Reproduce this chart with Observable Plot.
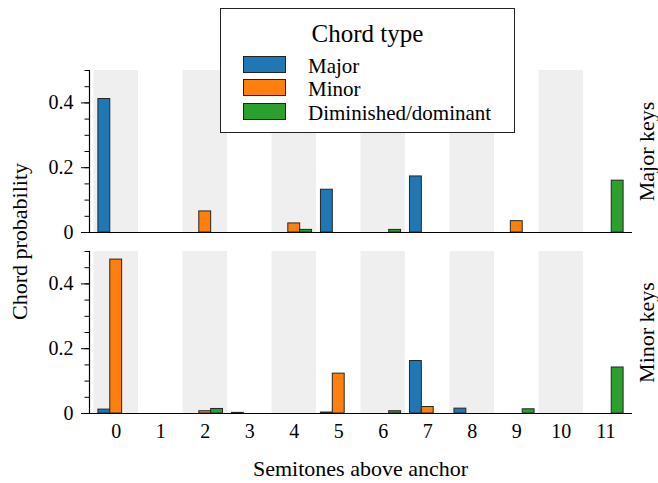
<!DOCTYPE html>
<html>
<head>
<meta charset="utf-8">
<script src="https://cdn.jsdelivr.net/npm/d3@7"></script>
<script src="https://cdn.jsdelivr.net/npm/@observablehq/plot@0.6"></script>
<style>
  body { margin: 0; background: white; }
  #wrap { position: relative; width: 658px; height: 483px; font-family: "Liberation Serif", "DejaVu Serif", serif; }
  #wrap svg, #wrap svg text, #wrap svg g { font-family: "Liberation Serif", "DejaVu Serif", serif !important; }
  #legend { position: absolute; left: 220px; top: 8px; width: 295px; height: 125px; border: 1px solid #222; background: white; box-sizing: border-box; }
  #legend .title { position: absolute; left: 0; width: 100%; text-align: center; font-size: 25px; line-height: 24px; top: 13px; }
  #legend .sw { position: absolute; left: 22px; width: 43px; height: 17px; border: 1px solid #222; box-sizing: border-box; }
  #legend .lab { position: absolute; left: 87px; font-size: 21px; line-height: 20px; white-space: nowrap; }
</style>
</head>
<body>
<div id="wrap"></div>
<script>
// ---- data ----
const semitones = [0, 1, 2, 3, 4, 5, 6, 7, 8, 9, 10, 11];
const chordTypes = ["Major", "Minor", "Diminished/dominant"];
const keyModes = ["Major keys", "Minor keys"];
const colors = ["#1f77b4", "#ff7f0e", "#2ca02c"];

// Major keys panel
const majKeysMajor = [0.412, 0, 0, 0, 0, 0.132, 0, 0.173, 0, 0, 0, 0];
const majKeysMinor = [0, 0, 0.065, 0, 0.028, 0, 0, 0, 0, 0.035, 0, 0];
const majKeysDim   = [0, 0, 0, 0, 0.008, 0, 0.008, 0, 0, 0, 0, 0.160];
// Minor keys panel
const minKeysMajor = [0.012, 0, 0, 0.002, 0, 0.003, 0, 0.162, 0.015, 0, 0, 0];
const minKeysMinor = [0.475, 0, 0.007, 0, 0, 0.123, 0, 0.020, 0, 0, 0, 0];
const minKeysDim   = [0, 0, 0.014, 0, 0, 0, 0.007, 0, 0, 0.013, 0, 0.142];

const yMajorTicks = [0, 0.2, 0.4];
const yMinorTicks = [0, 0.05, 0.1, 0.15, 0.2, 0.25, 0.3, 0.35, 0.4, 0.45, 0.5];

// ---- table ----
const series = {
  "Major keys": [majKeysMajor, majKeysMinor, majKeysDim],
  "Minor keys": [minKeysMajor, minKeysMinor, minKeysDim]
};
const rows = [];
for (const mode of keyModes) {
  series[mode].forEach((vals, ti) => {
    semitones.forEach((s, i) => rows.push({mode, type: chordTypes[ti], ti, semitone: s, value: vals[i]}));
  });
}
const bandRows = [];
for (const mode of keyModes) for (const s of semitones) if (s % 2 === 0) bandRows.push({mode, semitone: s});

const bw = 0.8 / 3; // bar width in semitone units

const plot = Plot.plot({
  width: 658,
  height: 483,
  marginTop: 70,
  marginBottom: 70,
  marginLeft: 89,
  marginRight: 26,
  style: "font-family: 'Liberation Serif', serif; font-size: 20px; background: white; color: black;",
  x: {domain: [-0.6, 11.6]},
  y: {domain: [0, 0.5]},
  fy: {domain: keyModes, paddingInner: 0.107, paddingOuter: 0, axis: null},
  color: {domain: chordTypes, range: colors},
  marks: [
    Plot.rect(bandRows, {x1: d => d.semitone - 0.5, x2: d => d.semitone + 0.5, fy: "mode", fill: "#efefef"}),
    Plot.rect(rows, {
      x1: d => d.semitone + (d.ti - 1) * bw - bw / 2,
      x2: d => d.semitone + (d.ti - 1) * bw + bw / 2,
      y1: 0, y2: "value", fy: "mode", fill: "type", stroke: "#262626", strokeWidth: 1
    }),
    Plot.ruleY([0], {stroke: "black", strokeWidth: 1.2}),
    Plot.frame({anchor: "left", stroke: "black", strokeWidth: 1.2}),
    Plot.axisY({ticks: yMajorTicks, tickSize: 8, tickPadding: 8, label: null, fontSize: 20, tickFormat: d => String(d)}),
    Plot.axisY({ticks: yMinorTicks, tickSize: 4.5, text: null, label: null}),
    Plot.axisX({ticks: semitones, tickSize: 0, tickPadding: 10, label: null, fontSize: 20, tickFormat: d => String(d)}),
    Plot.text(keyModes, {fy: d => d, text: d => d, frameAnchor: "right", textAnchor: "middle", lineAnchor: "middle", rotate: -90, dx: 14, fontSize: 22})
  ]
});

const wrap = document.getElementById("wrap");
wrap.appendChild(plot);

const svg = d3.select(plot);
svg.append("text")
  .attr("transform", "translate(27,241.5) rotate(-90)")
  .attr("text-anchor", "middle")
  .attr("font-size", 22)
  .attr("fill", "black")
  .text("Chord probability");
svg.append("text")
  .attr("x", 360.5)
  .attr("y", 476)
  .attr("text-anchor", "middle")
  .attr("font-size", 22)
  .attr("fill", "black")
  .text("Semitones above anchor");

// legend
const legend = d3.select(wrap).append("div").attr("id", "legend");
legend.append("div").attr("class", "title").text("Chord type");
const swTops = [47, 70, 94];
chordTypes.forEach((t, i) => {
  legend.append("div").attr("class", "sw").style("top", swTops[i] + "px").style("background", colors[i]);
  legend.append("div").attr("class", "lab").style("top", (swTops[i]) + "px").text(t);
});
</script>
</body>
</html>
